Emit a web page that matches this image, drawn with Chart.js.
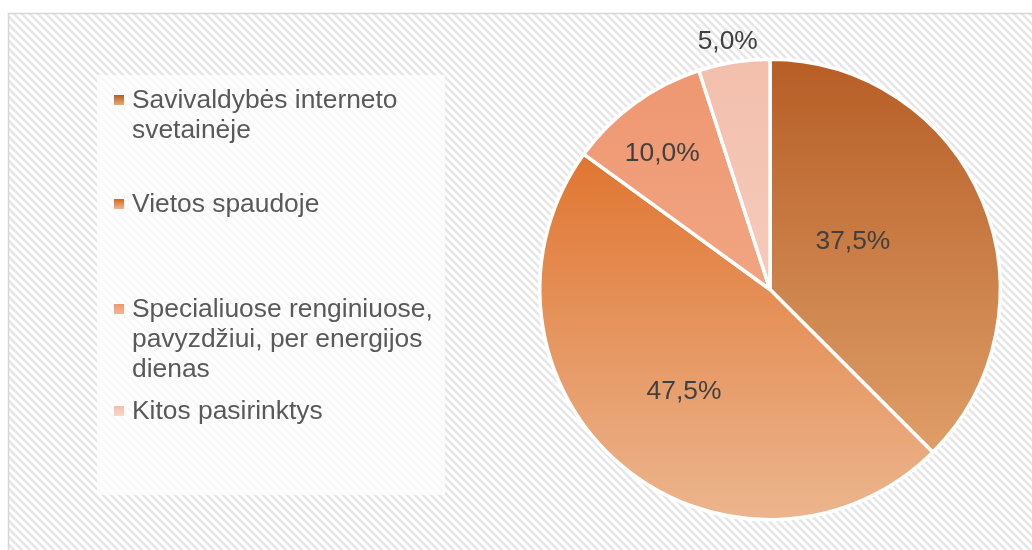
<!DOCTYPE html>
<html><head><meta charset="utf-8">
<script src="https://cdn.jsdelivr.net/npm/chart.js@4.4.1/dist/chart.umd.min.js"></script>
<style>html,body{margin:0;padding:0;background:#fff;}canvas{display:block}</style>
</head><body>
<canvas id="c" width="1032" height="550"></canvas>
<script>
const categories = ["Savivaldybės interneto svetainėje", "Vietos spaudoje", "Specialiuose renginiuose, pavyzdžiui, per energijos dienas", "Kitos pasirinktys"];
const values = [37.5, 47.5, 10.0, 5.0];
const gradTop = ["#b65d25", "#dd6418", "#ee966f", "#f3bfac"];
const gradBottom = ["#e6aa74", "#ecb68f", "#f4b496", "#f8d6c9"];

const FONT = '26.4px "Liberation Sans", Arial, sans-serif';
const fmt = v => v.toFixed(1).replace('.', ',') + '%';

// label placement (radius fraction, angle tweak in degrees)
const labelPlace = [{r: 0.42, a: -8.5}, {r: 0.575, a: 0}, {r: 0.76, a: -2}, {r: 1.1, a: -0.6}];
// legend layout
const legendBox = {x: 97, y: 75, w: 348, h: 420};
const legendFirstLineY = [101, 205, 310, 412];
const legendLineH = 30;

function wrap(ctx, text, maxW) {
  const words = text.split(' ');
  const lines = []; let cur = '';
  for (const w of words) {
    const t = cur ? cur + ' ' + w : w;
    if (ctx.measureText(t).width > maxW && cur) { lines.push(cur); cur = w; } else cur = t;
  }
  if (cur) lines.push(cur);
  return lines;
}

const bgPlugin = {
  id: 'bg',
  beforeDraw(chart) {
    const ctx = chart.ctx, W = chart.width, H = chart.height;
    ctx.save();
    ctx.fillStyle = '#fff'; ctx.fillRect(0, 0, W, H);
    const t = document.createElement('canvas'); t.width = 8; t.height = 8;
    const tc = t.getContext('2d');
    tc.fillStyle = '#fff'; tc.fillRect(0, 0, 8, 8);
    tc.strokeStyle = '#e6e6e6'; tc.lineWidth = 2.6;
    for (const k of [-8, 0, 8]) { tc.beginPath(); tc.moveTo(k - 2, -2); tc.lineTo(k + 10, 10); tc.stroke(); }
    ctx.fillStyle = ctx.createPattern(t, 'repeat');
    ctx.fillRect(8, 13, W - 8, H - 13);
    ctx.strokeStyle = '#d6d6d6'; ctx.lineWidth = 1.5;
    ctx.strokeRect(8.5, 13.5, W + 10, H + 10);
    ctx.fillStyle = 'rgba(255,255,255,0.72)';
    ctx.fillRect(legendBox.x, legendBox.y, legendBox.w, legendBox.h);
    ctx.restore();
  },
  afterDraw(chart) {
    const ctx = chart.ctx;
    ctx.save();
    const meta = chart.getDatasetMeta(0);
    ctx.font = FONT; ctx.fillStyle = '#404040';
    ctx.textAlign = 'center'; ctx.textBaseline = 'middle';
    meta.data.forEach((arc, i) => {
      const p = arc.getProps(['x', 'y', 'startAngle', 'endAngle', 'outerRadius'], true);
      const mid = (p.startAngle + p.endAngle) / 2 + labelPlace[i].a * Math.PI / 180;
      const r = p.outerRadius * labelPlace[i].r;
      ctx.fillText(fmt(values[i]), p.x + r * Math.cos(mid), p.y + r * Math.sin(mid) + 2);
    });
    ctx.textAlign = 'left';
    categories.forEach((c, i) => {
      const lines = wrap(ctx, c, 310);
      const y0 = legendFirstLineY[i];
      const g = ctx.createLinearGradient(0, y0 - 6, 0, y0 + 4);
      g.addColorStop(0, gradTop[i]); g.addColorStop(1, gradBottom[i]);
      ctx.fillStyle = g; ctx.fillRect(114, y0 - 6, 10, 10);
      ctx.fillStyle = '#595959';
      lines.forEach((ln, j) => ctx.fillText(ln, 132, y0 + j * legendLineH));
    });
    ctx.restore();
  }
};

new Chart(document.getElementById('c'), {
  type: 'pie',
  data: {
    labels: categories,
    datasets: [{
      data: values,
      backgroundColor: (context) => {
        const chart = context.chart, area = chart.chartArea;
        const i = context.dataIndex;
        if (!area) return gradTop[i];
        const g = chart.ctx.createLinearGradient(0, area.top, 0, area.bottom);
        g.addColorStop(0, gradTop[i]); g.addColorStop(1, gradBottom[i]);
        return g;
      },
      borderColor: '#ffffff',
      borderWidth: 3.5,
      hoverOffset: 0
    }]
  },
  options: {
    responsive: false,
    animation: false,
    events: [],
    layout: {padding: {left: 538, right: 30, top: 56, bottom: 27}},
    plugins: {legend: {display: false}, tooltip: {enabled: false}}
  },
  plugins: [bgPlugin]
});
</script>
</body></html>
